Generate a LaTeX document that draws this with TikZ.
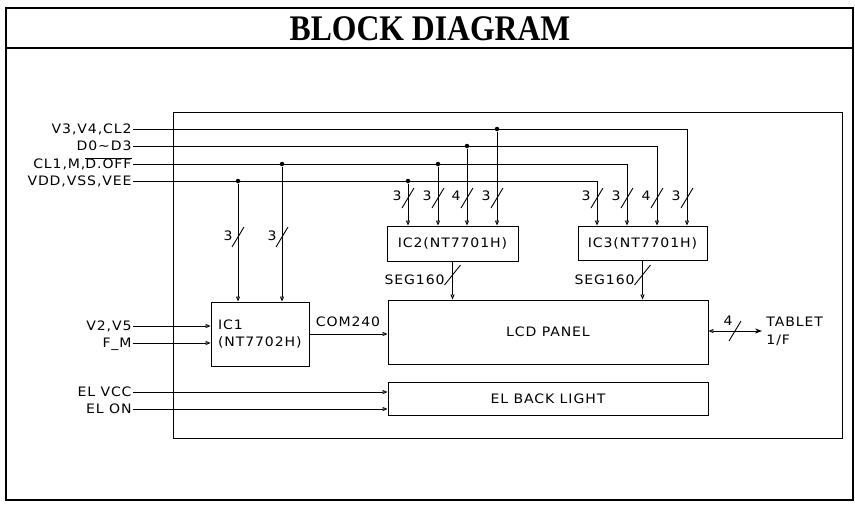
\documentclass[tikz,border=0pt]{standalone}
\usepackage{fontspec}
\newfontfamily\cadfont[FakeStretch=1.08, LetterSpace=7]{DejaVu Sans}
\newfontfamily\titlefont[FakeStretch=0.88]{Liberation Serif}
\usetikzlibrary{arrows.meta}

\begin{document}
\begin{tikzpicture}[x=1pt, y=-1pt, line width=0.9pt,
    txt/.style={font=\cadfont\fontsize{13}{17}\selectfont, inner sep=1pt, text height=9.5pt, text depth=0pt},
    block/.style={rectangle, draw, inner sep=0pt, font=\cadfont\fontsize{13}{17}\selectfont},
    inarrow/.style={-{Triangle[open, length=5pt, width=4pt]}},
    junc/.style={circle, fill, inner sep=0pt, minimum size=4.5pt}
]
    \useasboundingbox (0,0) rectangle (855,504);

    % Frame and title
    \draw[line width=1.2pt] (6,8) rectangle (853,500);
    \draw[line width=1.6pt] (6,48) -- (853,48);
    \node[font=\titlefont\bfseries\fontsize{36}{36}\selectfont] (title) at (430,29) {BLOCK DIAGRAM};
    \draw (173,112) rectangle (842,438);

    % Blocks
    \node[block, minimum width=98, minimum height=64, align=left, text width=84pt] (ic1) at (260,334) {IC1\\(NT7702H)};
    \node[block, minimum width=131, minimum height=35] (ic2) at (452.5,243.5) {IC2(NT7701H)};
    \node[block, minimum width=129, minimum height=34] (ic3) at (642.5,243) {IC3(NT7701H)};
    \node[block, minimum width=320, minimum height=64] (lcd) at (548,332) {LCD PANEL};
    \node[block, minimum width=320, minimum height=33] (el) at (548,398.5) {EL BACK LIGHT};

    % Input signals
    \node[txt, anchor=east] (v34) at (133,129) {V3,V4,CL2};
    \node[txt, anchor=east] (dat) at (133,146) {D0\textasciitilde D3};
    \node[txt, anchor=east] (cl1) at (133,164) {CL1,M,$\overline{\mbox{D.OFF}}$};
    \node[txt, anchor=east] (vdd) at (133,181) {VDD,VSS,VEE};
    \node[txt, anchor=east] (v25) at (133,326) {V2,V5};
    \node[txt, anchor=east] (fm) at (133,343) {F\_M};
    \node[txt, anchor=east] (elv) at (133,392) {EL VCC};
    \node[txt, anchor=east] (elo) at (133,409) {EL ON};

    % Bus taps
    \node[junc] (j1) at (497,129) {};
    \node[junc] (j2) at (467,146) {};
    \node[junc] (j3) at (438,164) {};
    \node[junc] (j4) at (282,164) {};
    \node[junc] (j5) at (408,181) {};
    \node[junc] (j6) at (238,181) {};
    \coordinate (k1) at (687,129);
    \coordinate (k2) at (657,146);
    \coordinate (k3) at (627,164);
    \coordinate (k4) at (597,181);

    \draw[inarrow] (v34) -- (k1) -- (k1 |- ic3.north);
    \draw[inarrow] (dat) -- (k2) -- (k2 |- ic3.north);
    \draw[inarrow] (cl1) -- (k3) -- (k3 |- ic3.north);
    \draw[inarrow] (vdd) -- (k4) -- (k4 |- ic3.north);
    \foreach \j in {j1, j2, j3, j5} {
        \draw[inarrow] (\j) -- (\j |- ic2.north);
    }
    \draw[inarrow] (j4) -- (j4 |- ic1.north);
    \draw[inarrow] (j6) -- (j6 |- ic1.north);

    % Bus widths
    \foreach \x/\n in {408/3, 438/3, 467/4, 497/3, 597/3, 627/3, 657/4, 687/3} {
        \draw (\x-6,208) -- (\x+6,188);
        \node[txt] (w\x) at (\x-11,196) {\n};
    }
    \foreach \x in {238, 282} {
        \draw (\x-6,247) -- (\x+6,227);
        \node[txt] (w\x) at (\x-10,236) {3};
    }

    % Segment and common lines
    \draw[inarrow] (ic2.south) -- (ic2.south |- lcd.north);
    \draw[inarrow] (ic3.south) -- (ic3.south |- lcd.north);
    \draw (444.5,285) -- (460.5,265);
    \draw (634.5,285) -- (650.5,265);
    \node[txt, anchor=east] (seg2) at (446,280) {SEG160};
    \node[txt, anchor=east] (seg3) at (636,280) {SEG160};

    \draw[inarrow] (ic1.east) -- (ic1.east -| lcd.west);
    \node[txt] (com) at (348,322) {COM240};

    \draw[inarrow] (v25) -- (v25 -| ic1.west);
    \draw[inarrow] (fm) -- (fm -| ic1.west);
    \draw[inarrow] (elv) -- (elv -| el.west);
    \draw[inarrow] (elo) -- (elo -| el.west);

    % Tablet interface
    \coordinate (tab) at (762,331);
    \draw[{Triangle[open, length=5pt, width=4pt]}-{Stealth[length=7pt, width=5pt]}] (lcd.east |- tab) -- (tab);
    \draw (729,341) -- (741,321);
    \node[txt] (w4) at (728,321) {4};
    \node[font=\cadfont\fontsize{13}{18}\selectfont, anchor=west, align=left, inner sep=1pt] (tablet) at (765,331) {TABLET\\1/F};

\end{tikzpicture}
\end{document}
